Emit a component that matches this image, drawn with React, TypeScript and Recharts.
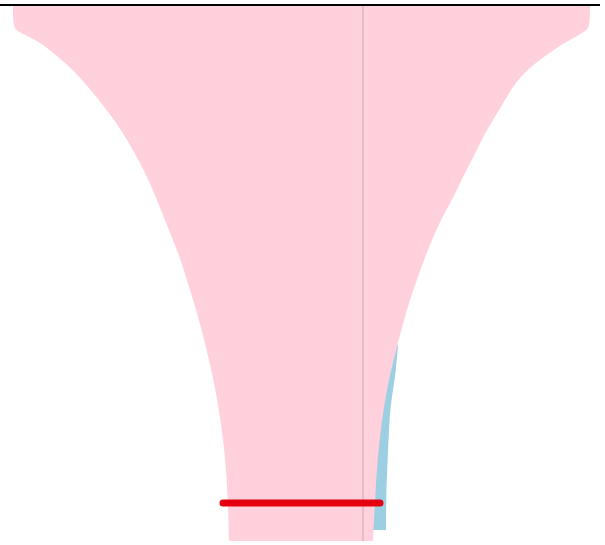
import { ComposedChart, Area, Line, XAxis, YAxis } from "recharts";

// vertical positions (y) with the left / right edge of the pink band
const bandY = [6, 28, 32, 40, 50, 67, 83, 100, 117, 133, 150, 167, 183, 200, 223, 257, 290, 323, 347, 390, 450, 500, 541];
const bandLeft = [13, 13, 19, 36, 50, 70, 85, 99, 112, 123, 133, 142, 150, 157, 166, 180, 190, 200, 206, 216, 225, 228, 229];
const bandRight = [590, 590, 584, 570, 553, 530, 515, 505, 495, 485, 477, 468, 460, 452, 439, 425, 413, 403, 397, 386, 378, 375, 373];

// blue sliver on the right side, lower part
const blueY = [345, 370, 390, 410, 450, 500, 530];
const blueLeft = [370, 370, 370, 370, 370, 370, 370];
const blueRight = [398, 396, 393, 390, 388, 386, 386];

// thin vertical centre line and the red marker
const centerX = [363, 363];
const centerY = [6, 541];
const markerX = [223, 380];
const markerY = [503, 503];

const bandData = bandY.map((y, i) => ({ y, range: [bandLeft[i], bandRight[i]] }));
const blueData = blueY.map((y, i) => ({ y, range: [blueLeft[i], blueRight[i]] }));
const centerData = centerY.map((y, i) => ({ y, x: centerX[i] }));
const markerData = markerY.map((y, i) => ({ y, x: markerX[i] }));

export default function App() {
  return (
    <div style={{ position: "absolute", left: 0, top: 0 }}>
      <ComposedChart
        width={605}
        height={545}
        layout="vertical"
        margin={{ top: 0, right: 5, bottom: 0, left: 0 }}
      >
        <XAxis
          type="number"
          orientation="top"
          domain={[0, 600]}
          height={5}
          tick={false}
          tickLine={false}
          axisLine={{ stroke: "#000", strokeWidth: 2 }}
          allowDataOverflow
        />
        <YAxis type="number" dataKey="y" domain={[5, 545]} hide allowDataOverflow />
        <Area
          data={blueData}
          dataKey="range"
          type="basis"
          fill="#9dcfe2"
          fillOpacity={1}
          stroke="none"
          isAnimationActive={false}
        />
        <Area
          data={bandData}
          dataKey="range"
          type="basis"
          fill="#ffd1dc"
          fillOpacity={1}
          stroke="none"
          isAnimationActive={false}
        />
        <Line
          data={centerData}
          dataKey="x"
          stroke="#e6bccb"
          strokeWidth={2}
          dot={false}
          isAnimationActive={false}
        />
        <Line
          data={markerData}
          dataKey="x"
          stroke="#e4000f"
          strokeWidth={7}
          strokeLinecap="round"
          dot={false}
          isAnimationActive={false}
        />
      </ComposedChart>
    </div>
  );
}
